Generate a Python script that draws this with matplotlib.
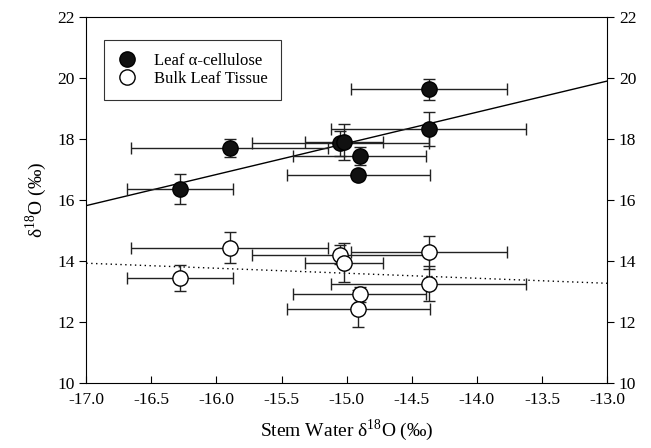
import matplotlib
matplotlib.use("Agg")
import matplotlib.pyplot as plt
import numpy as np

plt.rcParams['font.family'] = ['Liberation Serif', 'DejaVu Serif']
plt.rcParams['mathtext.fontset'] = 'custom'
plt.rcParams['mathtext.rm'] = 'Liberation Serif'

# stem water d18O (shared by both tissue types)
stem_x = [-16.28, -15.90, -15.05, -15.02, -14.90, -14.91, -14.37, -14.37]
stem_xerr = [0.41, 0.76, 0.68, 0.30, 0.51, 0.55, 0.75, 0.60]

# leaf alpha-cellulose
cellulose = [16.37, 17.71, 17.87, 17.92, 17.45, 16.83, 18.33, 19.64]
cellulose_err = [0.50, 0.30, 0.41, 0.59, 0.30, 0.15, 0.55, 0.35]

# bulk leaf tissue
bulk = [13.44, 14.45, 14.22, 13.96, 12.92, 12.45, 13.27, 14.29]
bulk_err = [0.43, 0.52, 0.30, 0.65, 0.25, 0.60, 0.57, 0.55]

x_ticks = [-17.0, -16.5, -16.0, -15.5, -15.0, -14.5, -14.0, -13.5, -13.0]
y_ticks = [10, 12, 14, 16, 18, 20, 22]


def main():
    fig = plt.figure(figsize=(6.51, 4.48), dpi=100)
    ax = fig.add_axes([0.1326, 0.1444, 0.7998, 0.8170])

    # regression lines
    xs = np.array([-17.0, -13.0])
    slope, icpt = np.polyfit(stem_x, cellulose, 1)
    ax.plot(xs, slope * xs + icpt, color='black', lw=1.0, zorder=1)
    slope, icpt = np.polyfit(stem_x, bulk, 1)
    ax.plot(xs, slope * xs + icpt, color='black', lw=1.0, ls=(0, (1, 2.5)), zorder=1)

    ax.errorbar(stem_x, cellulose, xerr=stem_xerr, yerr=cellulose_err, fmt='o',
                color='black', ms=11, mfc='#111111', mec='black', ecolor='#222222',
                elinewidth=1.0, capsize=4, capthick=1.0, label=u'Leaf \u03b1-cellulose', zorder=3)
    ax.errorbar(stem_x, bulk, xerr=stem_xerr, yerr=bulk_err, fmt='o',
                color='black', ms=11, mfc='white', mec='black', mew=1.0, ecolor='#222222',
                elinewidth=1.0, capsize=4, capthick=1.0, label='Bulk Leaf Tissue', zorder=3)

    ax.set_xlim(-17.0, -13.0)
    ax.set_ylim(10, 22)
    ax.set_xticks(x_ticks)
    ax.set_xticklabels(['%.1f' % v for v in x_ticks])
    ax.set_yticks(y_ticks)
    ax.tick_params(axis='x', direction='in', length=5, labelsize=12.5, pad=6)
    ax.tick_params(axis='y', direction='out', length=5, labelsize=12.5,
                   right=True, labelright=True)

    ax.set_xlabel(u'Stem Water \u03b4$^{18}$O (\u2030)', fontsize=14, labelpad=7)
    ax.set_ylabel(u'\u03b4$^{18}$O (\u2030)', fontsize=14, labelpad=6)

    handles, labels = ax.get_legend_handles_labels()
    handles = [h[0] for h in handles]
    leg = ax.legend(handles, labels, loc='upper left', bbox_to_anchor=(0.033, 0.938),
                    fontsize=12, frameon=True, fancybox=False, edgecolor='black',
                    borderpad=0.8, handletextpad=1.0, labelspacing=0.1,
                    handlelength=1.2, borderaxespad=0)
    leg.get_frame().set_linewidth(0.8)

    plt.savefig('out.png', dpi=100)
    plt.close()


if __name__ == "__main__":
    main()
